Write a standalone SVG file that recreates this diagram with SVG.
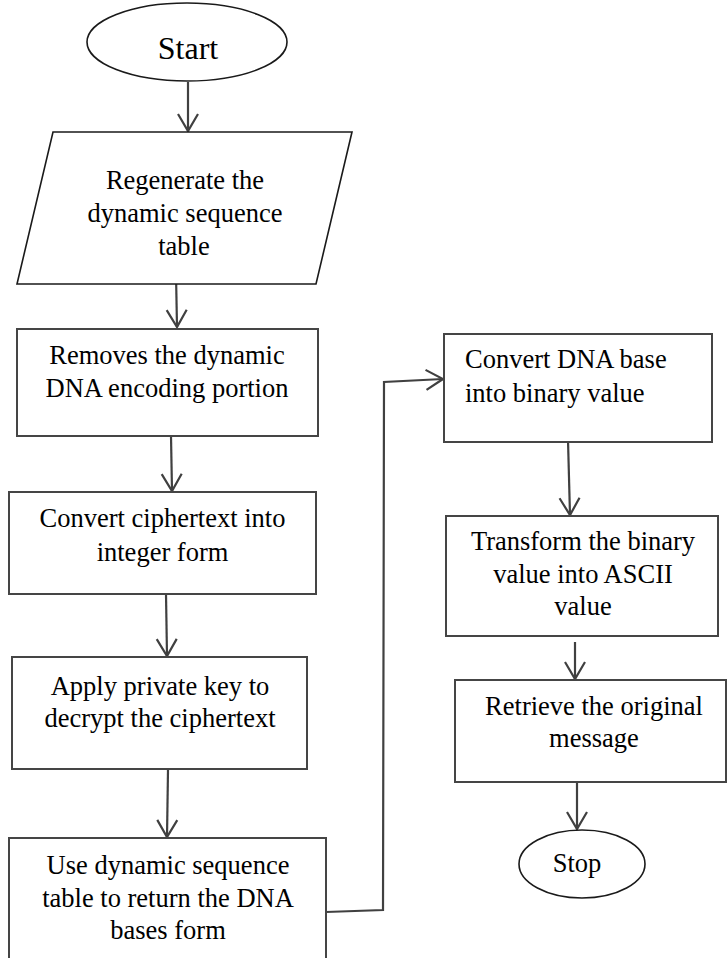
<svg xmlns="http://www.w3.org/2000/svg" width="727" height="958" viewBox="0 0 727 958">
<defs>
<marker id="arr" markerUnits="userSpaceOnUse" markerWidth="24" markerHeight="26" viewBox="-20 -13 24 26" refX="0" refY="0" orient="auto">
<path d="M -17 -10 L 0 0 L -17 10" fill="none" stroke="#404040" stroke-width="2.2"/>
</marker>
<style>
.box{fill:#fff;stroke:#454545;stroke-width:2}
.shape{fill:#fff;stroke:#1a1a1a;stroke-width:1.6}
.t{font-family:"Liberation Serif","Times New Roman",serif;font-size:26.5px;fill:#000}
.c{text-anchor:middle}
.ln{fill:none;stroke:#404040;stroke-width:2.2}
</style>
</defs>
<rect width="727" height="958" fill="#fff"/>
<g id="connectors">
<path class="ln" d="M188 82 L188 131" marker-end="url(#arr)"/>
<path class="ln" d="M176 274 L177 327" marker-end="url(#arr)"/>
<path class="ln" d="M171 436 L172 491" marker-end="url(#arr)"/>
<path class="ln" d="M166 594 L167 656" marker-end="url(#arr)"/>
<path class="ln" d="M168 770 L167 837" marker-end="url(#arr)"/>
<path class="ln" d="M326 912 L383 910 L384 382 L443 379" marker-end="url(#arr)"/>
<path class="ln" d="M568 440 L570 515" marker-end="url(#arr)"/>
<path class="ln" d="M575 642 L575 679" marker-end="url(#arr)"/>
<path class="ln" d="M577 782 L577 829" marker-end="url(#arr)"/>
</g>
<g id="start">
<ellipse class="shape" cx="187" cy="42" rx="100" ry="39"/>
<text class="t c" x="188" y="59" style="font-size:32px">Start</text>
</g>
<g id="regenerate">
<polygon class="shape" points="53,132 352,132 316,284 17,284"/>
<text class="t c" x="185" y="189">Regenerate the</text>
<text class="t c" x="185" y="222">dynamic sequence</text>
<text class="t c" x="184" y="255">table</text>
</g>
<g id="removes">
<rect class="box" x="17" y="329" width="301" height="107"/>
<text class="t c" x="167" y="364">Removes the dynamic</text>
<text class="t c" x="167" y="397">DNA encoding portion</text>
</g>
<g id="convert-cipher">
<rect class="box" x="9" y="492" width="307" height="102"/>
<text class="t c" x="162.5" y="527">Convert ciphertext into</text>
<text class="t c" x="162.5" y="561">integer form</text>
</g>
<g id="apply-key">
<rect class="box" x="12" y="657" width="295" height="112"/>
<text class="t c" x="160" y="695">Apply private key to</text>
<text class="t c" x="160" y="727">decrypt the ciphertext</text>
</g>
<g id="use-table">
<rect class="box" x="9" y="838" width="317" height="140"/>
<text class="t c" x="168" y="874">Use dynamic sequence</text>
<text class="t c" x="168" y="907">table to return the DNA</text>
<text class="t c" x="168" y="939">bases form</text>
</g>
<g id="convert-dna">
<rect class="box" x="444" y="334" width="268" height="108"/>
<text class="t" x="465" y="368">Convert DNA base</text>
<text class="t" x="465" y="402">into binary value</text>
</g>
<g id="transform">
<rect class="box" x="446" y="516" width="272" height="120"/>
<text class="t c" x="583" y="550">Transform the binary</text>
<text class="t c" x="583" y="583">value into ASCII</text>
<text class="t c" x="583" y="615">value</text>
</g>
<g id="retrieve">
<rect class="box" x="455" y="680" width="271" height="102"/>
<text class="t c" x="594" y="715">Retrieve the original</text>
<text class="t c" x="594" y="747">message</text>
</g>
<g id="stop">
<ellipse class="shape" cx="582" cy="864" rx="63" ry="34"/>
<text class="t c" x="577" y="872">Stop</text>
</g>
</svg>
